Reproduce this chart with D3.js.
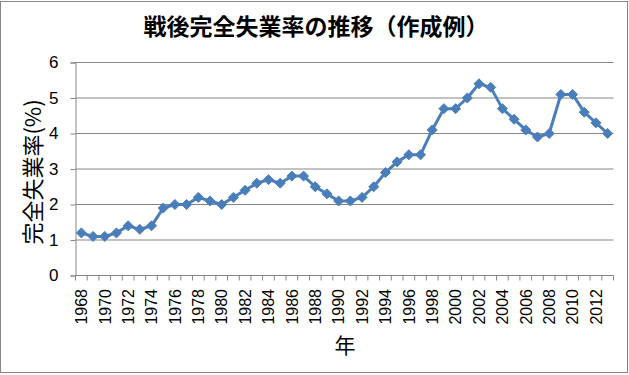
<!DOCTYPE html>
<html>
<head>
<meta charset="utf-8">
<script src="https://cdn.jsdelivr.net/npm/d3@7"></script>
<style>
  body { margin: 0; background: #fff; }
  text { font-family: "Liberation Sans", Arial, sans-serif; fill: #000; }
  text.cjk { font-family: "Noto Sans CJK JP", sans-serif; }
</style>
</head>
<body>
<svg width="629" height="375"></svg>
<script>
var svg = d3.select('svg');

// Data: Japan unemployment rate by year
var years = d3.range(1968, 2014);
var rates = [1.2, 1.1, 1.1, 1.2, 1.4, 1.3, 1.4, 1.9, 2.0, 2.0,
             2.2, 2.1, 2.0, 2.2, 2.4, 2.6, 2.7, 2.6, 2.8, 2.8,
             2.5, 2.3, 2.1, 2.1, 2.2, 2.5, 2.9, 3.2, 3.4, 3.4,
             4.1, 4.7, 4.7, 5.0, 5.4, 5.3, 4.7, 4.4, 4.1, 3.9,
             4.0, 5.1, 5.1, 4.6, 4.3, 4.0];
var yTicks = [0, 1, 2, 3, 4, 5, 6];

var titleText = '戦後完全失業率の推移（作成例）';
var yTitle = '完全失業率(%)';
var xTitle = '年';

var plot = {l: 75.5, r: 613.5, t: 62.5, b: 275.5};
var grey = '#868686';
var blue = '#4a7ebb';

// Outer chart border
svg.append('rect')
    .attr('x', 0.5).attr('y', 1.5)
    .attr('width', 627).attr('height', 371)
    .attr('fill', '#fff')
    .attr('stroke', grey);

var xScale = d3.scaleBand()
    .domain(years)
    .range([plot.l, plot.r]);

var yScale = d3.scaleLinear()
    .domain([0, 6])
    .range([plot.b, plot.t]);

// Horizontal gridlines
svg.append('g').selectAll('line')
    .data(yTicks.slice(1))
    .enter().append('line')
    .attr('x1', plot.l).attr('x2', plot.r)
    .attr('y1', function(d){ return yScale(d); })
    .attr('y2', function(d){ return yScale(d); })
    .attr('stroke', grey);

// Y axis
var yAxis = d3.axisLeft(yScale)
    .tickValues(yTicks)
    .tickFormat(d3.format('d'))
    .tickSize(5)
    .tickPadding(12);
var yG = svg.append('g')
    .attr('transform', 'translate(' + plot.l + ',0)')
    .call(yAxis);
yG.select('.domain').attr('stroke', grey);
yG.selectAll('.tick line').attr('stroke', grey);
yG.selectAll('.tick text').attr('font-size', 17);

// X axis: ticks on category boundaries, labels every other year
var xG = svg.append('g');
xG.append('line')
    .attr('x1', plot.l).attr('x2', plot.r)
    .attr('y1', plot.b).attr('y2', plot.b)
    .attr('stroke', grey);
xG.selectAll('.xtick')
    .data(years.concat([2014]))
    .enter().append('line')
    .attr('class', 'xtick')
    .attr('x1', function(d, i){ return plot.l + i * xScale.step(); })
    .attr('x2', function(d, i){ return plot.l + i * xScale.step(); })
    .attr('y1', plot.b).attr('y2', plot.b + 5)
    .attr('stroke', grey);
xG.selectAll('.xlabel')
    .data(years.filter(function(d){ return d % 2 === 0; }))
    .enter().append('text')
    .attr('class', 'xlabel')
    .attr('transform', function(d){
        return 'translate(' + [xScale(d) + xScale.bandwidth() / 2, 289] + ')rotate(-90)';
    })
    .attr('text-anchor', 'end')
    .attr('dy', '0.36em')
    .attr('font-size', 16)
    .text(function(d){ return d; });

// Line and diamond markers
var line = d3.line()
    .x(function(d, i){ return xScale(years[i]) + xScale.bandwidth() / 2; })
    .y(function(d){ return yScale(d); });

svg.append('path')
    .datum(rates)
    .attr('d', line)
    .attr('fill', 'none')
    .attr('stroke', blue)
    .attr('stroke-width', 3)
    .attr('stroke-linejoin', 'round');

svg.append('g').selectAll('path')
    .data(rates)
    .enter().append('path')
    .attr('d', 'M0,-5L5,0L0,5L-5,0Z')
    .attr('transform', function(d, i){
        return 'translate(' + [xScale(years[i]) + xScale.bandwidth() / 2, yScale(d)] + ')';
    })
    .attr('fill', blue)
    .attr('stroke', blue)
    .attr('stroke-width', 1);

// Titles
svg.append('text')
    .attr('class', 'cjk')
    .attr('x', 316).attr('y', 35)
    .attr('text-anchor', 'middle')
    .attr('font-size', 23)
    .attr('font-weight', 'bold')
    .text(titleText);

svg.append('text')
    .attr('class', 'cjk')
    .attr('transform', 'translate(' + [41, 172] + ')rotate(-90)')
    .attr('text-anchor', 'middle')
    .attr('font-size', 22)
    .text(yTitle);

svg.append('text')
    .attr('class', 'cjk')
    .attr('x', 345).attr('y', 353)
    .attr('text-anchor', 'middle')
    .attr('font-size', 21)
    .text(xTitle);
</script>
</body>
</html>
